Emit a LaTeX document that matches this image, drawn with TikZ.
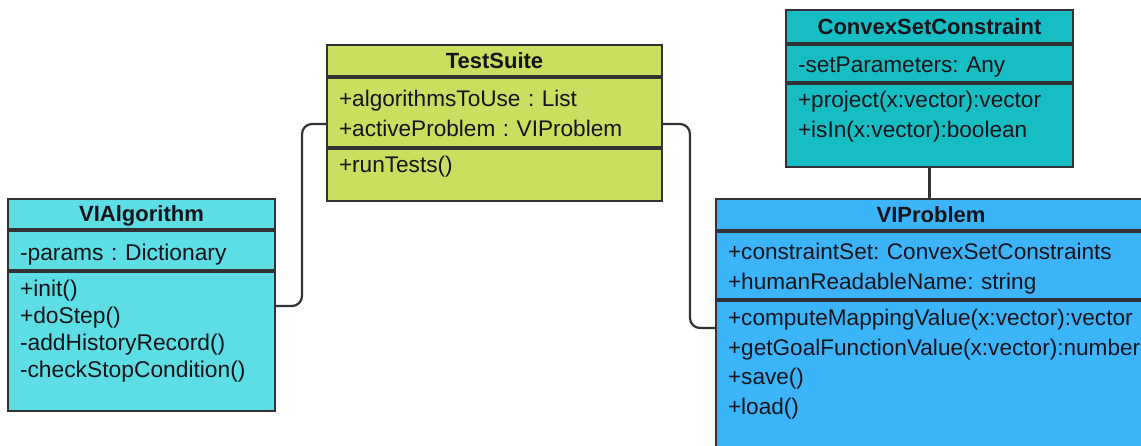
\documentclass[tikz,border=0pt]{standalone}
\usepackage{fontspec}
\setmainfont{Liberation Sans}
\usepackage{tikz}
\definecolor{ts_green}{RGB}{203,222,96}
\definecolor{alg_cyan}{RGB}{92,222,228}
\definecolor{csc_teal}{RGB}{22,190,196}
\definecolor{vip_blue}{RGB}{60,180,250}
\definecolor{line_gray}{RGB}{50,50,54}
\definecolor{text_black}{RGB}{20,20,26}
\hyphenpenalty=10000
\frenchspacing

\begin{document}
\begin{tikzpicture}[x=1pt,y=-1pt,
  class_head/.style={rectangle,draw=line_gray,line width=2pt,anchor=north west,inner sep=0pt,text=text_black,font=\fontsize{22}{26}\selectfont\bfseries,text height=17pt,text depth=1.2pt},
  class_body/.style={rectangle,draw=line_gray,line width=2pt,anchor=north west,inner xsep=12pt,inner ysep=0pt,align=left,text=text_black,font=\fontsize{22.6}{29.5}\selectfont},
  link/.style={draw=line_gray,line width=2.2pt,rounded corners=10pt}
  ]

\fill[white] (0,0) rectangle (1141,446);
\useasboundingbox (0,0) rectangle (1141,446);

% TestSuite
\node[class_head,fill=ts_green,minimum width=335pt,minimum height=31pt] (tsHead) at (326,44) {TestSuite};
\node[class_body,fill=ts_green,text width=311pt,text height=29pt,text depth=40pt] (tsAttr) at (tsHead.south west) {+algorithmsToUse : List\\+activeProblem : VIProblem};
\node[class_body,fill=ts_green,text width=311pt,text height=24pt,text depth=28pt] (tsMeth) at (tsAttr.south west) {+runTests()};

% VIAlgorithm
\node[class_head,fill=alg_cyan,minimum width=267pt,minimum height=30pt] (vaHead) at (7,198) {VIAlgorithm};
\node[class_body,fill=alg_cyan,text width=243pt,text height=30pt,text depth=9pt,font=\fontsize{22.8}{26.7}\selectfont] (vaAttr) at (vaHead.south west) {-params : Dictionary};
\node[class_body,fill=alg_cyan,text width=243pt,text height=25pt,text depth=114pt,font=\fontsize{22.8}{26.7}\selectfont] (vaMeth) at (vaAttr.south west) {+init()\\+doStep()\\-addHistoryRecord()\\-checkStopCondition()};

% ConvexSetConstraint
\node[class_head,fill=csc_teal,minimum width=287pt,minimum height=33pt] (cscHead) at (785,9) {ConvexSetConstraint};
\node[class_body,fill=csc_teal,text width=263pt,text height=28pt,text depth=9pt] (cscAttr) at (cscHead.south west) {-setParameters: Any};
\node[class_body,fill=csc_teal,text width=263pt,text height=24pt,text depth=59pt] (cscMeth) at (cscAttr.south west) {+project(x:vector):vector\\+isIn(x:vector):boolean};

% VIProblem
\node[class_head,fill=vip_blue,minimum width=430pt,minimum height=31pt] (vpHead) at (715,198) {VIProblem};
\node[class_body,fill=vip_blue,text width=406pt,text height=28pt,text depth=39pt] (vpAttr) at (vpHead.south west) {+constraintSet: ConvexSetConstraints\\+humanReadableName: string};
\node[class_body,fill=vip_blue,text width=406pt,text height=25pt,text depth=134pt] (vpMeth) at (vpAttr.south west) {+computeMappingValue(x:vector):vector\\+getGoalFunctionValue(x:vector):number\\+save()\\+load()};

% associations
\draw[link] ([yshift=-35pt]vaMeth.north east) -- ++(26,0) |- ([yshift=-47pt]tsAttr.north west);
\draw[link] ([yshift=-47pt]tsAttr.north east) -- ++(27,0) |- ([yshift=-28pt]vpMeth.north west);
\draw[link] (cscMeth.south) -- (cscMeth.south |- vpHead.north);

\end{tikzpicture}
\end{document}
